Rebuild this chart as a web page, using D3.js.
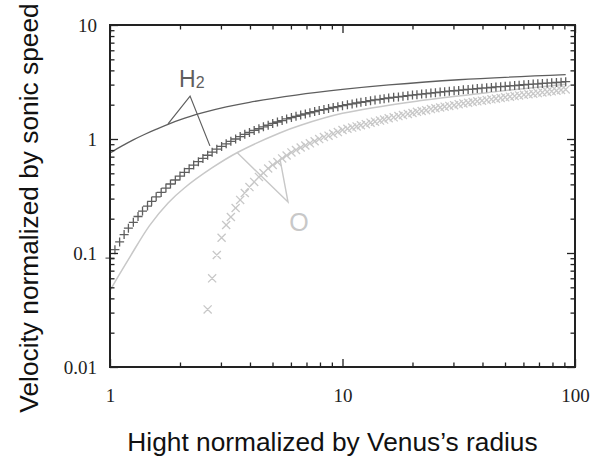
<!DOCTYPE html>
<meta charset="utf-8">
<style>
body { margin: 0; background: #fff; }
.tick text { font-family: "Liberation Serif", "DejaVu Serif", serif; font-size: 19px; fill: #222; }
.tick line { stroke: #222; stroke-width: 1.3px; }
.title { font-family: "Liberation Sans", Arial, sans-serif; font-size: 26.3px; fill: #111; }
.note { font-family: "Liberation Sans", Arial, sans-serif; }
</style>
<svg width="601" height="457"></svg>
<script src="https://cdnjs.cloudflare.com/ajax/libs/d3/7.8.5/d3.min.js"></script>
<script>

// marker positions along the height axis (shared by both marker series)
var heights = [1, 1.05, 1.10, 1.15, 1.20, 1.26, 1.32, 1.38, 1.45, 1.51,
  1.58, 1.66, 1.74, 1.82, 1.91, 2.00, 2.09, 2.19, 2.29, 2.40,
  2.51, 2.63, 2.75, 2.88, 3.02, 3.16, 3.31, 3.47, 3.63, 3.80,
  3.98, 4.17, 4.37, 4.57, 4.79, 5.01, 5.25, 5.50, 5.75, 6.03,
  6.31, 6.61, 6.92, 7.24, 7.59, 7.94, 8.32, 8.71, 9.12, 9.55,
  10.0, 10.5, 11.0, 11.5, 12.0, 12.6, 13.2, 13.8, 14.5, 15.1,
  15.8, 16.6, 17.4, 18.2, 19.1, 20.0, 20.9, 21.9, 22.9, 24.0,
  25.1, 26.3, 27.5, 28.8, 30.2, 31.6, 33.1, 34.7, 36.3, 38.0,
  39.8, 41.7, 43.7, 45.7, 47.9, 50.1, 52.5, 55.0, 57.5, 60.3,
  63.1, 66.1, 69.2, 72.4, 75.9, 79.4, 83.2, 87.1, 91.2];

// H2, "+" markers
var h2Markers = [0.090, 0.107, 0.125, 0.145, 0.165, 0.186, 0.209, 0.233, 0.258, 0.284,
  0.311, 0.340, 0.371, 0.403, 0.437, 0.473, 0.510, 0.549, 0.590, 0.632,
  0.675, 0.720, 0.766, 0.814, 0.860, 0.907, 0.954, 1.00, 1.05, 1.10,
  1.14, 1.19, 1.23, 1.28, 1.32, 1.37, 1.41, 1.45, 1.50, 1.54,
  1.58, 1.62, 1.66, 1.70, 1.74, 1.78, 1.81, 1.85, 1.89, 1.92,
  1.96, 2.00, 2.03, 2.07, 2.10, 2.13, 2.17, 2.20, 2.23, 2.26,
  2.29, 2.32, 2.34, 2.37, 2.40, 2.43, 2.45, 2.48, 2.50, 2.53,
  2.55, 2.58, 2.60, 2.63, 2.65, 2.67, 2.70, 2.72, 2.74, 2.77,
  2.79, 2.81, 2.83, 2.86, 2.88, 2.90, 2.92, 2.94, 2.96, 2.99,
  3.01, 3.03, 3.05, 3.07, 3.09, 3.11, 3.13, 3.15, 3.18];

// O, "x" markers start at the 22nd height
var oHeights = heights.slice(21);
var oMarkers = [0.032, 0.060, 0.096, 0.136, 0.176,
  0.207, 0.248, 0.292, 0.336, 0.379,
  0.420, 0.465, 0.503, 0.551, 0.592,
  0.628, 0.675, 0.717, 0.762, 0.801,
  0.842, 0.877, 0.917, 0.956, 0.998,
  1.04, 1.07, 1.11, 1.15, 1.20,
  1.23, 1.26, 1.29, 1.32, 1.35,
  1.39, 1.42, 1.45, 1.48, 1.52,
  1.55, 1.59, 1.62, 1.66, 1.69,
  1.73, 1.76, 1.79, 1.83, 1.86,
  1.89, 1.92, 1.95, 1.98, 2.02,
  2.05, 2.08, 2.11, 2.14, 2.17,
  2.20, 2.23, 2.26, 2.29, 2.32,
  2.35, 2.38, 2.41, 2.44, 2.47,
  2.50, 2.53, 2.56, 2.59, 2.62,
  2.65, 2.69, 2.72];

// solid curves
var h2LineX = [1, 1.122, 1.259, 1.413, 1.585, 1.995, 2.512, 3.162, 3.981, 6.31, 10, 15.85, 31.6, 91.2];
var h2LineV = [0.754, 0.865, 0.982, 1.10, 1.22, 1.47, 1.70, 1.91, 2.10, 2.43, 2.72, 2.98, 3.31, 3.67];
var oLineX = [1, 1.096, 1.23, 1.479, 1.778, 2.089, 2.754, 3.548, 5.37, 6.607, 10, 21.38, 47.86, 91.2];
var oLineV = [0.0468, 0.0646, 0.0955, 0.174, 0.275, 0.372, 0.560, 0.765, 1.13, 1.32, 1.679, 2.163, 2.63, 3.02];

var xMajor = [1, 10, 100];
var xMinor = [2, 3, 4, 5, 6, 7, 8, 9, 20, 30, 40, 50, 60, 70, 80, 90];
var yMajor = [0.01, 0.1, 1, 10];
var yMinor = [0.02, 0.03, 0.04, 0.05, 0.06, 0.07, 0.08, 0.09, 0.2, 0.3, 0.4, 0.5, 0.6, 0.7, 0.8, 0.9, 2, 3, 4, 5, 6, 7, 8, 9];

var dark = "#5e5e5e", light = "#c8c8c8";

var svg = d3.select("svg");
var plotL = 110, plotR = 575, plotT = 25, plotB = 367;

var x = d3.scaleLog().domain([1, 100]).range([plotL, plotR]);
var y = d3.scaleLog().domain([0.01, 10]).range([plotB, plotT]);

var line = d3.line()
    .x(function(d) { return x(d[0]); })
    .y(function(d) { return y(d[1]); })
    .curve(d3.curveCatmullRom.alpha(0.5));

svg.append("path")
    .attr("d", line(d3.zip(oLineX, oLineV)))
    .attr("fill", "none")
    .attr("stroke", light)
    .attr("stroke-width", 1.5);

svg.append("path")
    .attr("d", line(d3.zip(h2LineX, h2LineV)))
    .attr("fill", "none")
    .attr("stroke", dark)
    .attr("stroke-width", 1.3);

// markers
var r = 4.5;
function cross(d) {
  var px = x(d[0]), py = y(d[1]);
  return "M" + (px - r) + "," + py + "h" + 2 * r + "M" + px + "," + (py - r) + "v" + 2 * r;
}
function times(d) {
  var px = x(d[0]), py = y(d[1]), q = r * 0.9;
  return "M" + (px - q) + "," + (py - q) + "l" + 2 * q + "," + 2 * q +
         "M" + (px - q) + "," + (py + q) + "l" + 2 * q + "," + (-2 * q);
}

svg.append("path")
    .attr("d", d3.zip(oHeights, oMarkers).map(times).join(""))
    .attr("fill", "none")
    .attr("stroke", light)
    .attr("stroke-width", 1.3);

svg.append("path")
    .attr("d", d3.zip(heights, h2Markers).map(cross).join(""))
    .attr("fill", "none")
    .attr("stroke", dark)
    .attr("stroke-width", 1.3);

// annotations (data space)
var h2Leader = [[1.776, 1.36], [2.21, 2.38], [2.69, 0.87]];
var oLeader = [[3.52, 0.76], [5.83, 0.28], [5.39, 0.66]];
var straight = d3.line()
    .x(function(d) { return x(d[0]); })
    .y(function(d) { return y(d[1]); });

svg.append("path")
    .attr("d", straight(h2Leader))
    .attr("fill", "none")
    .attr("stroke", dark)
    .attr("stroke-width", 1.2);
svg.append("path")
    .attr("d", straight(oLeader))
    .attr("fill", "none")
    .attr("stroke", light)
    .attr("stroke-width", 1.4);

var h2Text = svg.append("text")
    .attr("class", "note")
    .attr("x", x(2.25))
    .attr("y", y(2.86))
    .attr("text-anchor", "middle")
    .attr("fill", dark)
    .style("font-size", "23px");
h2Text.append("tspan").text("H");
h2Text.append("tspan").attr("dy", 1).style("font-size", "16px").text("2");

svg.append("text")
    .attr("class", "note")
    .attr("x", x(6.5))
    .attr("y", y(0.155))
    .attr("text-anchor", "middle")
    .attr("fill", light)
    .style("font-size", "25px")
    .text("O");

// axes, ticks inward on all four sides
function axisPair(make, scale, major, minor, pos, labels) {
  var gMaj = svg.append("g").attr("transform", pos)
      .call(make(scale).tickValues(major).tickSize(-8).tickPadding(labels ? labels : 0)
        .tickFormat(labels ? function(d) { return d3.format("~g")(d); } : ""));
  var gMin = svg.append("g").attr("transform", pos)
      .call(make(scale).tickValues(minor).tickSize(-4.5).tickFormat(""));
  gMaj.select(".domain").remove();
  gMin.select(".domain").remove();
  return gMaj;
}

axisPair(d3.axisBottom, x, xMajor, xMinor, "translate(0," + plotB + ")", 22);
axisPair(d3.axisTop, x, xMajor, xMinor, "translate(0," + plotT + ")", 0);
axisPair(d3.axisLeft, y, yMajor, yMinor, "translate(" + plotL + ",0)", 13);
axisPair(d3.axisRight, y, yMajor, yMinor, "translate(" + plotR + ",0)", 0);

svg.append("rect")
    .attr("x", plotL)
    .attr("y", plotT)
    .attr("width", plotR - plotL)
    .attr("height", plotB - plotT)
    .attr("fill", "none")
    .attr("stroke", "#222")
    .attr("stroke-width", 2);

svg.append("text")
    .attr("class", "title")
    .attr("x", (plotL + plotR) / 2 - 10)
    .attr("y", 451)
    .attr("text-anchor", "middle")
    .text("Hight normalized by Venus\u2019s radius");

svg.append("text")
    .attr("class", "title")
    .attr("transform", "translate(38," + 208 + ") rotate(-90)")
    .attr("text-anchor", "middle")
    .text("Velocity normalized by sonic speed");

</script>
